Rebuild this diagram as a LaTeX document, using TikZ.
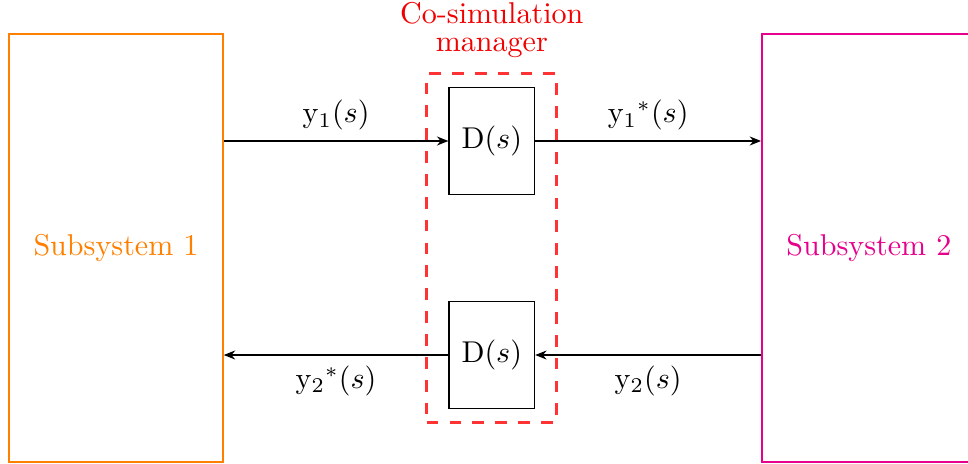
\documentclass[tikz,border=0pt]{standalone}
\usepackage{amsmath}
\usetikzlibrary{arrows.meta}
\definecolor{subone}{RGB}{255,128,0}
\definecolor{subtwo}{RGB}{230,0,140}
\definecolor{cmred}{RGB}{255,51,51}

\begin{document}
\begin{tikzpicture}[
	subsys/.style={draw,line width=0.5pt,minimum width=2.5cm,minimum height=5cm},
	dblock/.style={draw,minimum width=1cm,minimum height=1.25cm},
	sig/.style={-{Stealth[length=3.8pt,width=3pt]}}]
	\useasboundingbox (-1.355,-2.512) rectangle (9.953,2.897);
	\node[subsys,draw=subone,text=subone] (S1) at (0,0) {Subsystem 1};
	\node[subsys,draw=subtwo,text=subtwo] (S2) at (8.795,0) {Subsystem 2};
	\node[draw=cmred,line width=1pt,dash pattern=on 3.9pt off 3.7pt,
	      minimum width=1.52cm,minimum height=4.07cm] (CM) at (4.39,0) {};
	\node[dblock] (D1) at (4.39,1.25) {D$(s)$};
	\node[dblock] (D2) at (4.39,-1.25) {D$(s)$};
	\node[red!95!black,align=center,above=1.3pt] (CMlabel) at (CM.north)
	     {Co-simulation\\[-2.6pt]manager};
	\draw[sig] (S1.east |- D1.west) -- node[above] {$\mathrm{y}_1(s)$} (D1.west);
	\draw[sig] (D1.east) -- node[above] {$\mathrm{y}_1{}^*(s)$} (S2.west |- D1.east);
	\draw[sig] (S2.west |- D2.east) -- node[below] {$\mathrm{y}_2(s)$} (D2.east);
	\draw[sig] (D2.west) -- node[below] {$\mathrm{y}_2{}^*(s)$} (S1.east |- D2.west);
\end{tikzpicture}
\end{document}
